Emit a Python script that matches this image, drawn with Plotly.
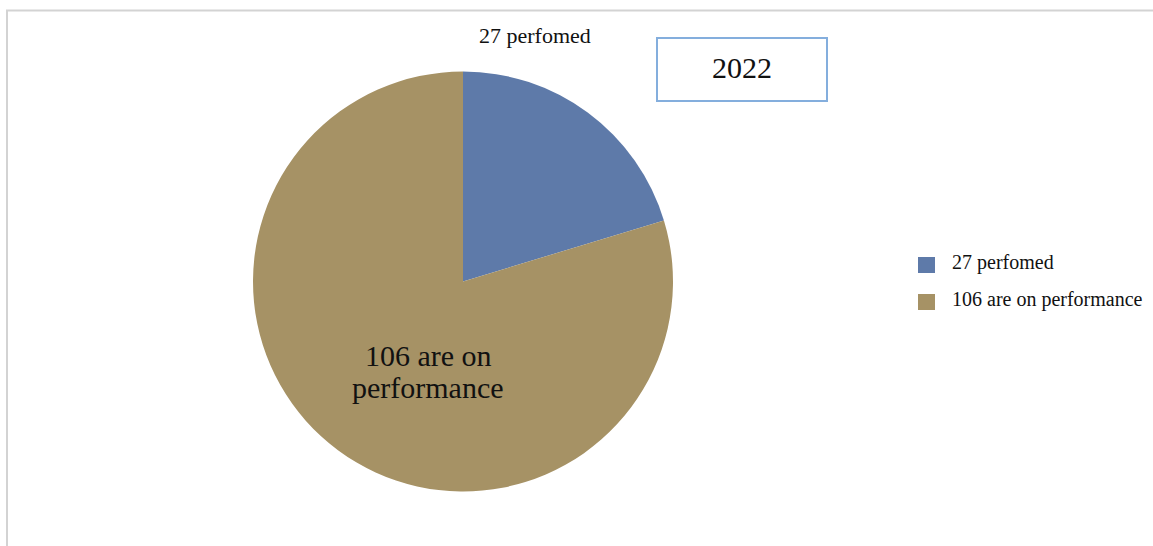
import plotly.graph_objects as go

# Slice data
labels = ["27 perfomed", "106 are on performance"]
values = [27, 106]
colors = ["#5E7AA9", "#A69265"]
year_label = "2022"

W, H = 1153, 546
FONT = "Liberation Serif, Times New Roman, serif"

def px(x):
    return x / W

def py(y):
    return 1 - y / H

# Pie geometry (pixels)
cx, cy, r = 463, 281.5, 210

fig = go.Figure(go.Pie(
    labels=labels,
    values=values,
    marker=dict(colors=colors, line=dict(width=0)),
    sort=False,
    direction="clockwise",
    rotation=0,
    textinfo="none",
    hoverinfo="label+value",
    showlegend=False,
    domain=dict(x=[px(cx - r), px(cx + r)], y=[py(cy + r), py(cy - r)]),
))

shapes = [
    # outer frame (top and left edges)
    dict(type="line", xref="paper", yref="paper", x0=px(6), x1=1, y0=py(10.5), y1=py(10.5),
         line=dict(color="#D3D3D3", width=2)),
    dict(type="line", xref="paper", yref="paper", x0=px(7), x1=px(7), y0=py(10), y1=0,
         line=dict(color="#D3D3D3", width=2)),
    # year box
    dict(type="rect", xref="paper", yref="paper", x0=px(657), x1=px(827), y0=py(101), y1=py(38),
         line=dict(color="#84AEDD", width=2), fillcolor="white"),
]


def text_at(text, x, y, size, xanchor="center"):
    return dict(text=text, x=px(x), y=py(y), xref="paper", yref="paper",
                xanchor=xanchor, yanchor="middle", showarrow=False,
                font=dict(family=FONT, size=size, color="#111"))


annotations = [
    text_at(year_label, 742, 67, 30),
    text_at(labels[0], 535, 36, 22),
    text_at("106 are on", 428, 355, 30),
    text_at("performance", 428, 387, 30),
]

# Manual legend
leg_rows = [265, 302]
for lab, col, yy in zip(labels, colors, leg_rows):
    shapes.append(dict(type="rect", xref="paper", yref="paper",
                       x0=px(918), x1=px(935), y0=py(yy + 8), y1=py(yy - 8),
                       fillcolor=col, line=dict(width=0)))
    annotations.append(text_at(lab, 950, yy - 3, 20, xanchor="left"))

fig.update_layout(
    width=W, height=H,
    margin=dict(l=0, r=0, t=0, b=0),
    paper_bgcolor="white",
    plot_bgcolor="white",
    shapes=shapes,
    annotations=annotations,
)

fig.write_html("out.html")
